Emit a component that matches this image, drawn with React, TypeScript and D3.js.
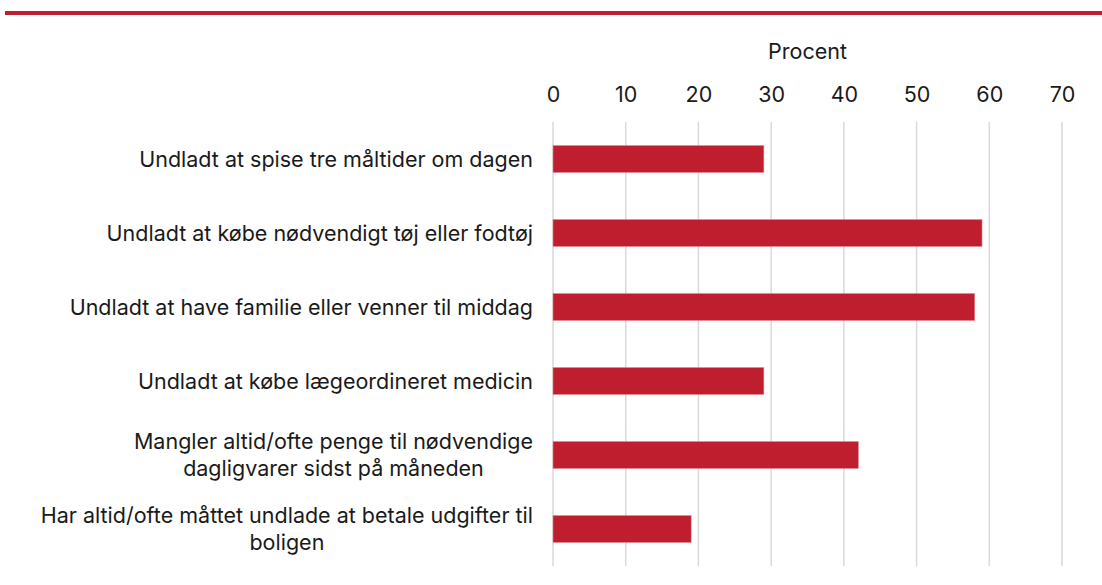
import * as React from 'react';
import * as d3 from 'd3';

const categories: string[][] = [
    ["Undladt at spise tre måltider om dagen"],
    ["Undladt at købe nødvendigt tøj eller fodtøj"],
    ["Undladt at have familie eller venner til middag"],
    ["Undladt at købe lægeordineret medicin"],
    ["Mangler altid/ofte penge til nødvendige", "dagligvarer sidst på måneden"],
    ["Har altid/ofte måttet undlade at betale udgifter til", "boligen"],
];
const values: number[] = [29, 59, 58, 29, 42, 19];
const xTicks: number[] = [0, 10, 20, 30, 40, 50, 60, 70];
const axisTitle = "Procent";

const RED = "#be1e2d";
const FONT = "Inter, 'Noto Sans', sans-serif";
const FS = 21.5;

const App = () => {
    const ref = React.useRef<SVGSVGElement>(null);
    const dim = { width: 1102, height: 585, left: 553, right: 1062, top: 122, bottom: 566, labelRight: 533 };

    React.useEffect(() => {
        const svg = d3.select(ref.current);
        svg.selectAll("*").remove();

        // red rule at the top
        svg.append("rect")
            .attr("x", 5).attr("y", 11)
            .attr("width", dim.width - 5).attr("height", 4)
            .attr("fill", RED);

        const keys = categories.map(c => c.join(" "));
        const x = d3.scaleLinear().domain([0, 70]).range([dim.left, dim.right]);
        const y = d3.scaleBand<string>().domain(keys)
            .range([dim.top, dim.bottom])
            .paddingInner(0.635)
            .paddingOuter(0.3175);

        // gridlines
        svg.append("g")
            .selectAll("line")
            .data(xTicks)
            .join("line")
            .attr("x1", d => x(d)).attr("x2", d => x(d))
            .attr("y1", dim.top).attr("y2", dim.bottom)
            .attr("stroke", "#d9d9d9")
            .attr("stroke-width", 1.5);

        // axis on top
        const xAxis = d3.axisTop(x).tickValues(xTicks).tickSize(0).tickPadding(0);
        svg.append("g")
            .attr("transform", `translate(0, 102)`)
            .call(xAxis)
            .call(g => g.select(".domain").remove())
            .call(g => g.selectAll("text")
                .attr("font-family", FONT)
                .attr("font-size", FS)
                .attr("fill", "#1a1a1a"));

        svg.append("text")
            .attr("x", (dim.left + dim.right) / 2)
            .attr("y", 59)
            .attr("text-anchor", "middle")
            .attr("font-family", FONT)
            .attr("font-size", FS)
            .attr("fill", "#1a1a1a")
            .text(axisTitle);

        // bars
        svg.append("g")
            .selectAll("rect")
            .data(values)
            .join("rect")
            .attr("x", x(0))
            .attr("y", (_, i) => y(keys[i])!)
            .attr("width", d => x(d) - x(0))
            .attr("height", y.bandwidth())
            .attr("fill", RED)
            .attr("stroke", "#e58a93")
            .attr("stroke-width", 0.6);

        // category labels: block right-aligned, lines centred in block
        const lineH = 27;
        const labels = svg.append("g");
        categories.forEach((lines, i) => {
            const cy = y(keys[i])! + y.bandwidth() / 2;
            const g = labels.append("g");
            const texts = lines.map((ln, j) => g.append("text")
                .attr("y", cy + (j - (lines.length - 1) / 2) * lineH)
                .attr("dy", "0.35em")
                .attr("text-anchor", "middle")
                .attr("font-family", FONT)
                .attr("font-size", FS)
                .attr("fill", "#1a1a1a")
                .text(ln));
            const w = d3.max(texts, t => (t.node() as SVGTextElement).getComputedTextLength()) || 0;
            texts.forEach(t => t.attr("x", dim.labelRight - w / 2));
        });
    }, []);

    return (
        <svg ref={ref} width={dim.width} height={dim.height}
            style={{ position: 'absolute', left: 0, top: 0, background: '#fff' }}>
        </svg>
    );
};

export default App;
